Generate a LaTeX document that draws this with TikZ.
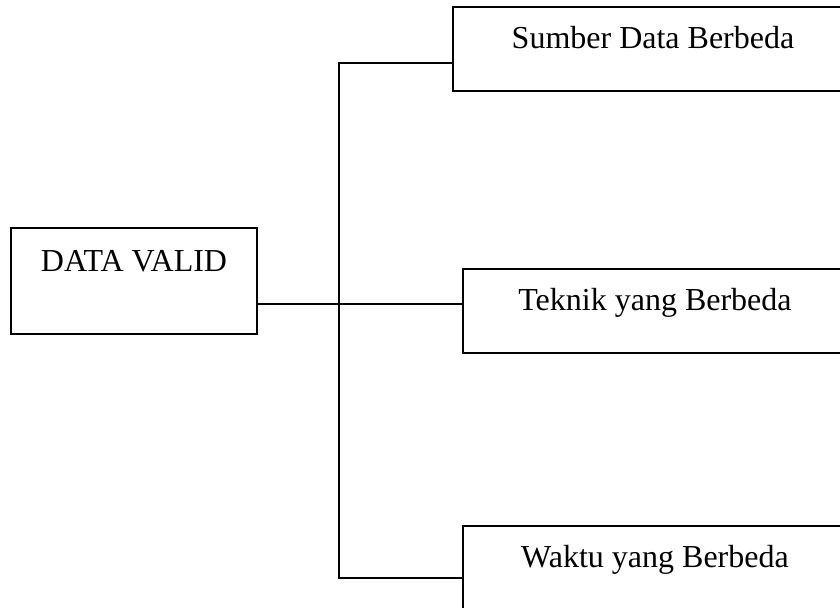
\documentclass[tikz,border=0pt]{standalone}
\usepackage{fontspec}
\setmainfont{Liberation Serif}
\usepackage{tikz}

\tikzset{
  kotak/.style={shape=rectangle,draw=black,line width=0.8pt,inner xsep=0pt,inner ysep=0pt,
    font=\fontsize{16}{19}\selectfont,text height=20.5pt,text depth=21.5pt}
}

\begin{document}
\begin{tikzpicture}[x=0.5pt,y=-0.5pt,line width=0.8pt]

	\path[use as bounding box,clip] (0,0) rectangle (840,607);

	\node[kotak,minimum width=123pt,text height=21.5pt,text depth=31.5pt] (valid) at (134, 281) {DATA VALID};
	\node[kotak,minimum width=200pt] (sumber) at (653, 49)  {Sumber Data Berbeda};
	\node[kotak,minimum width=192pt] (teknik) at (655, 311) {Teknik yang Berbeda};
	\node[kotak,minimum width=192pt] (waktu)  at (655, 568) {Waktu yang Berbeda};

	\coordinate (cabang) at (339, 304);
	\coordinate (atas)   at (339, 63);
	\coordinate (bawah)  at (339, 578);

	\draw (valid.east |- cabang) -- (cabang) -- (teknik.west |- cabang);
	\draw (sumber.west |- atas) -- (atas) -- (bawah) -- (waktu.west |- bawah);

\end{tikzpicture}
\end{document}
